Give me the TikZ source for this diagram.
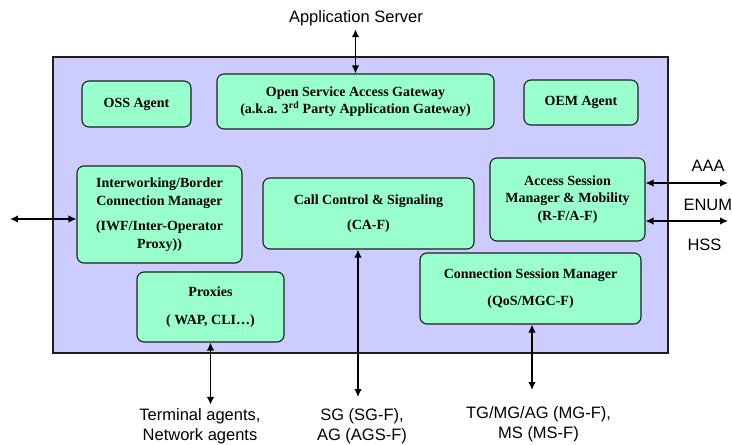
\documentclass[tikz,border=0pt]{standalone}
\usepackage{xcolor}
\usepackage{fontspec}
\setmainfont{Liberation Serif}
\newfontfamily\labelfont{Liberation Sans}
\usepackage{tikz}
\usetikzlibrary{arrows.meta,positioning,calc}
\definecolor{boxgreen}{RGB}{153,255,204}
\definecolor{boxlavender}{RGB}{204,204,255}
\definecolor{boxline}{RGB}{30,30,30}

\begin{document}
\begin{tikzpicture}[
    x=1pt, y=-1pt,
    box/.style={rectangle, draw=boxline, fill=boxgreen, rounded corners=7pt, align=center, line width=1.1pt, font=\fontsize{14}{17.7}\selectfont\bfseries},
    ext/.style={align=center, font=\labelfont\fontsize{16.5}{20}\selectfont},
    arrow/.style={<->, >={Latex[length=8pt, width=7.5pt]}, line width=1.3pt}
]
    \useasboundingbox (0,0) rectangle (732,445);

    % enclosing platform
    \node[rectangle, draw=boxline, fill=boxlavender, line width=1.4pt, minimum width=615pt, minimum height=296pt] (core) at (360.5,205) {};

    \node[box, minimum width=109pt, minimum height=46pt] (oss) at (136.5,104) {OSS Agent};
    \node[box, minimum width=277pt, minimum height=55pt] (osag) at (355.5,101.5) {Open Service Access Gateway\\(a.k.a. 3\textsuperscript{rd} Party Application Gateway)};
    \node[box, minimum width=114pt, minimum height=45pt] (oem) at (581,102.5) {OEM Agent};
    \node[box, minimum width=165pt, minimum height=97pt] (iwf) at (159.5,214.5) {Interworking/Border\\Connection Manager\\[8pt](IWF/Inter-Operator\\Proxy))};
    \node[box, minimum width=211pt, minimum height=71pt] (cc) at (368.5,213.5) {Call Control \& Signaling\\[8pt](CA-F)};
    \node[box, minimum width=155pt, minimum height=83pt] (asm) at (567.5,199.5) {Access Session\\Manager \& Mobility\\(R-F/A-F)};
    \node[box, minimum width=221pt, minimum height=71pt] (csm) at (530.5,288.5) {Connection Session Manager\\[9pt](QoS/MGC-F)};
    \node[box, minimum width=147pt, minimum height=70pt] (prox) at (210.5,307) {Proxies\\[10pt]( WAP, CLI\ldots)};

    % outside parties
    \node[ext] (appsrv) at (356,18) {Application Server};
    \node[ext, anchor=west] (aaa) at (688,166) {AAA};
    \node[ext, anchor=west] (enum) at (680,205) {ENUM};
    \node[ext, anchor=west] (hss) at (684,245) {HSS};
    \node[ext] (term) at (200,426) {Terminal agents,\\Network agents};
    \node[ext] (sg) at (362,426) {SG (SG-F),\\AG (AGS-F)};
    \node[ext] (tg) at (538.5,424) {TG/MG/AG (MG-F),\\MS (MS-F)};

    \coordinate (left-end) at (10,219);
    \coordinate (aaa-end) at (728,183);
    \coordinate (enum-end) at (728,221);
    \coordinate (sg-end) at (358,397);
    \coordinate (tg-end) at (532,390);

    \draw[arrow] (appsrv.south -| osag.north) -- (osag.north);
    \draw[arrow] (left-end) -- (left-end -| iwf.west);
    \draw[arrow] (aaa-end -| asm.east) -- (aaa-end);
    \draw[arrow] (enum-end -| asm.east) -- (enum-end);
    \draw[arrow] (prox.south) -- (prox.south |- term.north);
    \draw[arrow] (sg-end |- cc.south) -- (sg-end);
    \draw[arrow] (tg-end |- csm.south) -- (tg-end);
\end{tikzpicture}
\end{document}
